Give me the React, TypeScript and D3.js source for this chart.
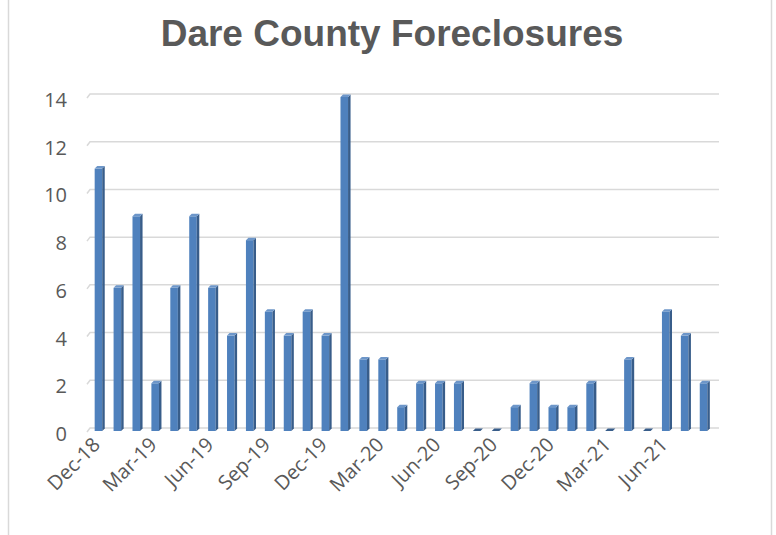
import * as d3 from 'd3';
import React from 'react';

const months: string[] = [
  'Dec-18', 'Jan-19', 'Feb-19', 'Mar-19', 'Apr-19', 'May-19', 'Jun-19', 'Jul-19', 'Aug-19',
  'Sep-19', 'Oct-19', 'Nov-19', 'Dec-19', 'Jan-20', 'Feb-20', 'Mar-20', 'Apr-20', 'May-20',
  'Jun-20', 'Jul-20', 'Aug-20', 'Sep-20', 'Oct-20', 'Nov-20', 'Dec-20', 'Jan-21', 'Feb-21',
  'Mar-21', 'Apr-21', 'May-21', 'Jun-21', 'Jul-21', 'Aug-21',
];

const foreclosures: number[] = [
  11, 6, 9, 2, 6, 9, 6, 4, 8, 5, 4, 5, 4, 14, 3, 3, 1, 2, 2, 2, 0, 0, 1, 2, 1, 1, 2, 0, 3, 0, 5, 4, 2,
];

const yTicks: number[] = [0, 2, 4, 6, 8, 10, 12, 14];

// every third month gets a label
const xTickLabels: string[] = months.filter((_, i) => i % 3 === 0);

const width = 776;
const height = 535;
const depth = 2.5; // 3d offset of the bar sides
const wallShift = 3; // gridlines sit on the back wall

export default function App() {
  const xScale = d3
    .scaleBand<string>()
    .domain(months)
    .range([89, 713])
    .paddingInner(0.6)
    .paddingOuter(0.3);

  const yScale = d3.scaleLinear().domain([0, 14]).range([431, 97]);

  const bw = xScale.bandwidth();
  const y0 = yScale(0);
  const labelFont = '"Open Sans", "DejaVu Sans", sans-serif';

  return (
    <svg
      width={width}
      height={height}
      style={{ position: 'absolute', left: 0, top: 0, background: '#fff' }}
    >
      <line x1={8.5} x2={8.5} y1={0} y2={height} stroke="#d9d9d9" strokeWidth={1.5} />
      <line x1={771.5} x2={771.5} y1={0} y2={height} stroke="#d9d9d9" strokeWidth={1.5} />

      <text
        x={392}
        y={46}
        textAnchor="middle"
        fontFamily='"Liberation Sans", Arial, sans-serif'
        fontWeight="bold"
        fontSize={37}
        fill="#595959"
      >
        Dare County Foreclosures
      </text>

      <g className="grid">
        {yTicks.map((t) => (
          <path
            key={t}
            d={`M87,${yScale(t) + 1}L${87 + wallShift},${yScale(t) - wallShift}H719`}
            fill="none"
            stroke="#d9d9d9"
            strokeWidth={1.5}
          />
        ))}
      </g>

      <g className="y-axis" fontFamily={labelFont} fontSize={20} fill="#595959">
        {yTicks.map((t) => (
          <text key={t} x={67} y={yScale(t) + 3} dy="0.35em" textAnchor="end">
            {t}
          </text>
        ))}
      </g>

      <g className="bars">
        {months.map((m, i) => {
          const x = xScale(m) ?? 0;
          const y = yScale(foreclosures[i]);
          return (
            <g key={m}>
              {foreclosures[i] > 0 && (
                <>
                  <rect x={x} y={y} width={bw} height={y0 - y} fill="#4f81bd" />
                  <path
                    d={`M${x + bw},${y}L${x + bw + depth},${y - depth}V${y0 - depth}L${x + bw},${y0}Z`}
                    fill="#385d8a"
                  />
                </>
              )}
              <path
                d={`M${x},${y}L${x + depth},${y - depth}H${x + bw + depth}L${x + bw},${y}Z`}
                fill={foreclosures[i] > 0 ? '#6d96c9' : '#385d8a'}
              />
            </g>
          );
        })}
      </g>

      <g className="x-axis" fontFamily={labelFont} fontSize={20} fill="#595959">
        {xTickLabels.map((m) => {
          const cx = (xScale(m) ?? 0) + bw / 2 + 3;
          const cy = 446;
          return (
            <text key={m} x={cx} y={cy} textAnchor="end" transform={`rotate(-45 ${cx} ${cy})`}>
              {m}
            </text>
          );
        })}
      </g>
    </svg>
  );
}
